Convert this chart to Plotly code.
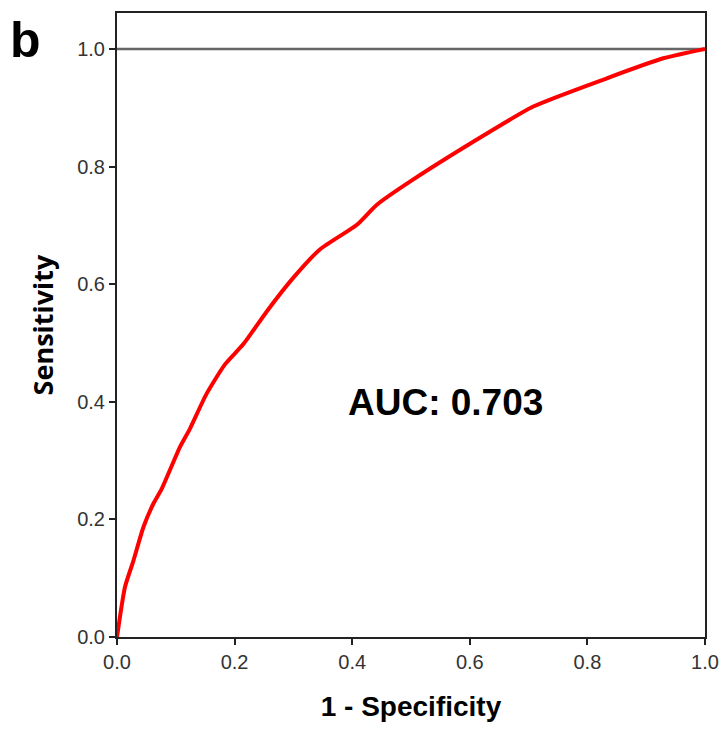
import plotly.graph_objects as go

fpr = [0, 0.0136, 0.028, 0.045, 0.062, 0.076, 0.107, 0.124, 0.152, 0.184, 0.215,
       0.255, 0.300, 0.345, 0.408, 0.442, 0.504, 0.629, 0.708, 0.833, 0.929, 1.0]
tpr = [0, 0.085, 0.13, 0.187, 0.227, 0.252, 0.323, 0.354, 0.413, 0.464, 0.498,
       0.554, 0.611, 0.659, 0.701, 0.735, 0.778, 0.856, 0.902, 0.950, 0.984, 1.0]
tick_vals = [0, 0.2, 0.4, 0.6, 0.8, 1.0]
tick_text = ["0.0", "0.2", "0.4", "0.6", "0.8", "1.0"]
auc_label = "AUC: 0.703"
panel_label = "b"

fig = go.Figure()
fig.add_shape(type="line", x0=0, x1=1, y0=1, y1=1, xref="x", yref="y",
              line=dict(color="#666666", width=2.5), layer="below")
fig.add_trace(go.Scatter(x=fpr, y=tpr, mode="lines",
                         line=dict(color="#ff0000", width=4, shape="spline", smoothing=0.6),
                         showlegend=False, cliponaxis=False))

axis_common = dict(showgrid=False, zeroline=False, showline=True, linecolor="#222222",
                   linewidth=2, mirror=True, ticks="outside", ticklen=6, tickwidth=2,
                   tickcolor="#222222", tickvals=tick_vals, ticktext=tick_text,
                   tickfont=dict(family="Liberation Sans, Arial", size=20, color="#333333"))
fig.update_xaxes(range=[0, 1], title=dict(text="<b>1 - Specificity</b>",
                 font=dict(family="Liberation Sans, Arial", size=28, color="black"),
                 standoff=24), **axis_common)
fig.update_yaxes(range=[0, 1.061], title=dict(text="<b>Sensitivity</b>",
                 font=dict(family="Open Sans, Noto Sans", size=27, color="black"),
                 standoff=16), **axis_common)

fig.add_annotation(x=0.558, y=0.398, xref="x", yref="y", text="<b>" + auc_label + "</b>",
                   showarrow=False, xanchor="center", yanchor="middle",
                   font=dict(family="Liberation Sans, Arial", size=37, color="black"))
fig.add_annotation(x=-0.1555, y=0.956, xref="paper", yref="paper", text="<b>" + panel_label + "</b>",
                   showarrow=False, xanchor="center", yanchor="middle",
                   font=dict(family="Liberation Sans, Arial", size=50, color="black"))

fig.update_layout(width=719, height=721, margin=dict(l=109, r=22, t=3, b=92),
                  plot_bgcolor="white", paper_bgcolor="white")
fig.write_html("out.html")
